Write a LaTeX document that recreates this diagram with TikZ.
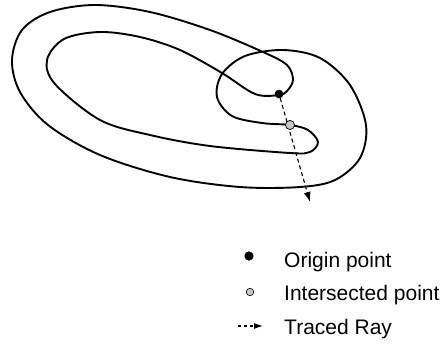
\documentclass[tikz,border=0pt]{standalone}
\usepackage{fontspec}
\setmainfont{Liberation Sans}
\usetikzlibrary{arrows.meta}

\tikzset{
	pt/.style = {circle, draw=black, line width=0.6pt, inner sep=0pt, minimum size=8pt},
	ray/.style = {dashed, line width=1.1pt, dash pattern=on 4pt off 3pt, -{Latex[length=10pt,width=7pt]}},
	key/.style = {anchor=base west, font=\fontsize{21}{25}\selectfont, inner sep=0pt}
}

\begin{document}
\begin{tikzpicture}[x=1pt,y=-1pt]
	\useasboundingbox (0,0) rectangle (444,343);
	% the closed curve
	\draw[line width=1.9pt, line join=round] plot[smooth cycle, tension=0.55] coordinates {
		(279,95) (255,94) (222,73) (180,50) (140,37) (100,32) (64,39) (47,60)
		(55,84) (100,120) (150,135) (210,146) (290,153) (310,152) (318,142)
		(308,130) (290,125) (262,123) (232,116) (217,97) (222,74) (245,56)
		(283,50) (320,58) (350,85) (366,125) (360,158) (335,180) (300,187)
		(240,187) (170,177) (100,155) (48,125) (20,92) (12,60) (22,30)
		(50,12) (95,5) (150,12) (210,30) (263,52) (287,65) (293,80) (287,91)};
	% ray and its points
	\coordinate (rayend) at (310,202);
	\node[pt, fill=black, minimum size=8pt] (origin) at (279,94) {};
	\node[pt, fill=black!22, minimum size=9pt] (hit) at (290,125) {};
	\draw[ray] (origin) -- (rayend);
	\node[pt, fill=black!22, minimum size=9pt] at (hit) {};
	% legend
	\node[pt, fill=black, minimum size=8.5pt] (keyorigin) at (249,256) {};
	\node[pt, fill=black!22, minimum size=7.5pt] (keyhit) at (250,292) {};
	\coordinate (keyrayA) at (238,326);
	\coordinate (keyrayB) at (263,326);
	\draw[ray, -{Latex[length=9pt,width=6pt]}, dash pattern=on 3pt off 3pt] (keyrayA) -- (keyrayB);
	\node[key] (txtorigin) at (284,267) {Origin point};
	\node[key] (txthit) at (284,300) {Intersected point};
	\node[key] (txtray) at (284,334) {Traced Ray};
\end{tikzpicture}
\end{document}
